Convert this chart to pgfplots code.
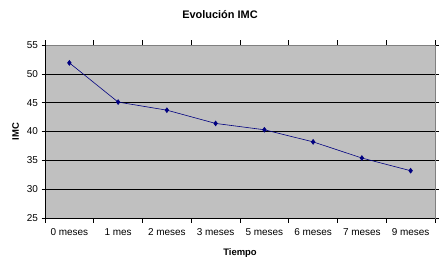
\documentclass[border=0pt]{standalone}
\usepackage{fontspec}
\setmainfont{Liberation Sans}
\usepackage{pgfplots}
\pgfplotsset{compat=1.18}

\definecolor{plotgray}{HTML}{C0C0C0}
\definecolor{framegray}{HTML}{808080}
\definecolor{serie}{HTML}{000080}

\begin{document}
\begin{tikzpicture}[x=1bp,y=1bp]
\useasboundingbox (0,0) rectangle (440,266);
% title
\node[font=\bfseries\fontsize{11}{13}\selectfont] at (220,251) {Evolución IMC};
\begin{axis}[
  at={(45bp,48bp)}, anchor=south west,
  scale only axis, width=390bp, height=173bp,
  xmin=-0.5, xmax=7.5, ymin=25, ymax=55,
  xtick={0,...,7},
  xticklabels={0 meses,1 mes,2 meses,3 meses,5 meses,6 meses,7 meses,9 meses},
  minor xtick={-0.5,0.5,...,7.5},
  ytick={25,30,...,55},
  major x tick style={draw=none},
  tick align=outside,
  major tick length=3.5bp, minor tick length=4.5bp,
  tick style={black, line width=0.6pt},
  ymajorgrids,
  grid style={black, line width=0.6pt},
  axis background/.style={fill=plotgray},
  axis line style={framegray, line width=0.6pt},
  tick label style={font=\fontsize{10}{12}\selectfont},
  xticklabel style={yshift=-3.5bp},
  /pgf/number format/assume math mode=true,
  xlabel={Tiempo}, ylabel={IMC},
  label style={font=\bfseries\fontsize{9.5}{11}\selectfont},
  xlabel style={yshift=-6bp},
  ylabel style={yshift=1bp},
  clip=false,
]
\addplot[serie, line width=0.6pt, mark=diamond*, mark size=2.4bp, mark options={fill=serie}]
  coordinates {(0,51.9) (1,45.1) (2,43.7) (3,41.4) (4,40.3) (5,38.2) (6,35.4) (7,33.2)};
\draw[black, line width=0.6pt] (rel axis cs:0,1) -- (rel axis cs:0,0) -- (rel axis cs:1,0);
\end{axis}
\end{tikzpicture}
\end{document}
